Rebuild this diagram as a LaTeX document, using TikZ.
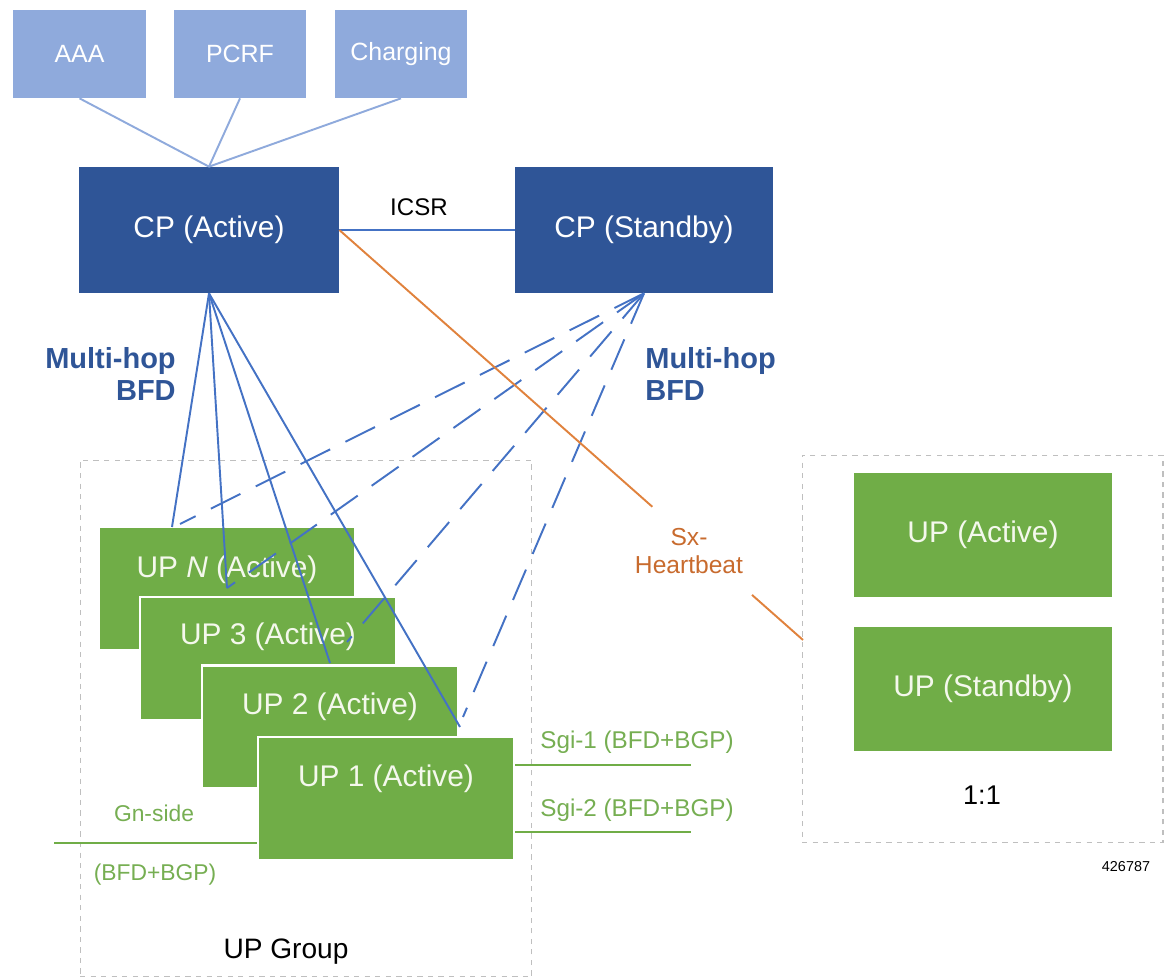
\documentclass[tikz,border=0pt]{standalone}
\usepackage{fontspec}
\setmainfont{Liberation Sans}
\usetikzlibrary{calc}
\definecolor{lblue}{HTML}{8FAADC}
\definecolor{dblue}{HTML}{2F5597}
\definecolor{lineblue}{HTML}{4472C4}
\definecolor{upgreen}{HTML}{70AD47}
\definecolor{txtgreen}{HTML}{76AE52}
\definecolor{orangeline}{HTML}{E0823D}
\definecolor{orangetxt}{HTML}{C86B2E}
\definecolor{grpgray}{HTML}{BFBFBF}
\definecolor{boxtxt}{HTML}{F4F8EC}
\begin{document}
\begin{tikzpicture}[x=0.02cm,y=-0.02cm,
  topbox/.style={rectangle, fill=lblue, inner sep=0, minimum width=2.66cm, minimum height=1.76cm,
     text=white, font=\fontsize{14.2}{16}\selectfont},
  cpbox/.style={rectangle, fill=dblue, inner sep=0, minimum height=2.52cm,
     text=white, font=\fontsize{17}{20}\selectfont},
  upbox/.style={rectangle, fill=upgreen, draw=white, line width=1.2pt, inner sep=0,
     minimum width=5.12cm, minimum height=2.46cm},
  uptext/.style={text=boxtxt, font=\fontsize{17}{20}\selectfont, inner sep=0},
  rupbox/.style={rectangle, fill=upgreen, inner sep=0, minimum width=5.16cm, minimum height=2.48cm,
     text=boxtxt, font=\fontsize{17}{20}\selectfont},
  grpbox/.style={rectangle, draw=grpgray, dashed, line width=0.6pt, inner sep=0},
  feedline/.style={draw=lblue, line width=1.1pt},
  bfdline/.style={draw=lineblue, line width=1.1pt},
  bfddash/.style={draw=lineblue, line width=1.1pt, dash pattern=on 18.8pt off 9.7pt},
  gline/.style={draw=upgreen, line width=1.4pt},
  mhop/.style={text=dblue, font=\bfseries\fontsize{16.5}{18.2}\selectfont, inner sep=0},
  glabel/.style={text=txtgreen, font=\fontsize{13}{15}\selectfont, inner sep=0},
  sgilabel/.style={text=txtgreen, font=\fontsize{13.8}{16}\selectfont, inner sep=0},
]
\useasboundingbox (0,0) rectangle (1164,979);

% group boxes
\node[grpbox, minimum width=9.04cm, minimum height=10.34cm] (grp1) at (306,718.5) {};
\node[grpbox, minimum width=7.22cm, minimum height=7.76cm] (grp2) at (982.5,649) {};

% top boxes
\node[topbox] (aaa) at (79.5,54) {AAA};
\node[topbox] (pcrf) at (240,54) {PCRF};
\node[topbox] (chg) at (401,54) {Charging};

% CP boxes
\node[cpbox, minimum width=5.2cm] (cpa) at (209,230) {CP (Active)};
\node[cpbox, minimum width=5.16cm] (cps) at (644,230) {CP (Standby)};

\draw[feedline] (aaa.south) -- (cpa.north);
\draw[feedline] (pcrf.south) -- (cpa.north);
\draw[feedline] (chg.south) -- (cpa.north);

% ICSR
\draw[bfdline] (cpa.east) -- (cps.west);
\node[font=\fontsize{13.7}{16}\selectfont, inner sep=0] (icsr) at (419,207) {ICSR};

% UP stack
\node[upbox] (upN) at (227,588.5) {};
\node[uptext] (upNt) at (227,570) {UP \textit{N} (Active)};
\node[upbox] (up3) at (268,658.5) {};
\node[uptext] (up3t) at (268,637) {UP 3 (Active)};
\node[upbox] (up2) at (330,727) {};
\node[uptext] (up2t) at (330,707) {UP 2 (Active)};
\node[upbox] (up1) at (386,798.5) {};
\node[uptext] (up1t) at (386,779) {UP 1 (Active)};

% right UP boxes
\node[rupbox] (upa) at (983,535) {UP (Active)};
\node[rupbox] (upsb) at (983,689) {UP (Standby)};

% endpoints
\coordinate (s1) at (172,527);
\coordinate (s2) at (227,588);
\coordinate (s3) at (330,663);
\coordinate (s4) at (460,727);
\coordinate (d1) at (180,524);
\coordinate (d2) at (227,588);
\coordinate (d3) at (347,642);
\coordinate (d4) at (463,717);

\draw[bfdline] (cpa.south) -- (s1);
\draw[bfdline] (cpa.south) -- (s2);
\draw[bfdline] (cpa.south) -- (s3);
\draw[bfdline] (cpa.south) -- (s4);
\draw[bfddash] (cps.south) -- (d1);
\draw[bfddash] (cps.south) -- (d2);
\draw[bfddash] (cps.south) -- (d3);
\draw[bfddash] (cps.south) -- (d4);

% Multi-hop labels
\node[mhop, anchor=east, align=right] (mhl) at (176,374) {Multi-hop\\BFD};
\node[mhop, anchor=west, align=left] (mhr) at (645,374) {Multi-hop\\BFD};

% Sx heartbeat
\coordinate (hbend) at (803,640);
\path (cpa.east) -- (hbend) coordinate[pos=0.675] (o1) coordinate[pos=0.89] (o2);
\draw[draw=orangeline, line width=1.1pt] (cpa.east) -- (o1);
\draw[draw=orangeline, line width=1.1pt] (o2) -- (hbend);
\node[text=orangetxt, font=\fontsize{14}{16}\selectfont, align=center, inner sep=0] (sx) at (689,551) {Sx-\\Heartbeat};

% green links
\coordinate (sg1) at (691,765);
\coordinate (sg2) at (691,832);
\coordinate (gn) at (54,843);
\draw[gline] (up1.east |- sg1) -- (sg1);
\draw[gline] (up1.east |- sg2) -- (sg2);
\draw[gline] (gn) -- (gn -| up1.west);
\node[sgilabel, anchor=west] (sgi1) at (540,742) {Sgi-1 (BFD+BGP)};
\node[sgilabel, anchor=west] (sgi2) at (540,810) {Sgi-2 (BFD+BGP)};
\node[glabel] (gns) at (154,813) {Gn-side};
\node[glabel] (gnb) at (155,875) {(BFD+BGP)};

% other labels
\node[font=\fontsize{16}{19}\selectfont, inner sep=0] (upg) at (286,952) {UP Group};
\node[font=\fontsize{15.4}{18}\selectfont, inner sep=0] (oneone) at (982,795) {1:1};
\node[font=\fontsize{8.2}{10}\selectfont, inner sep=0] (fig) at (1126,867) {426787};
\end{tikzpicture}
\end{document}
